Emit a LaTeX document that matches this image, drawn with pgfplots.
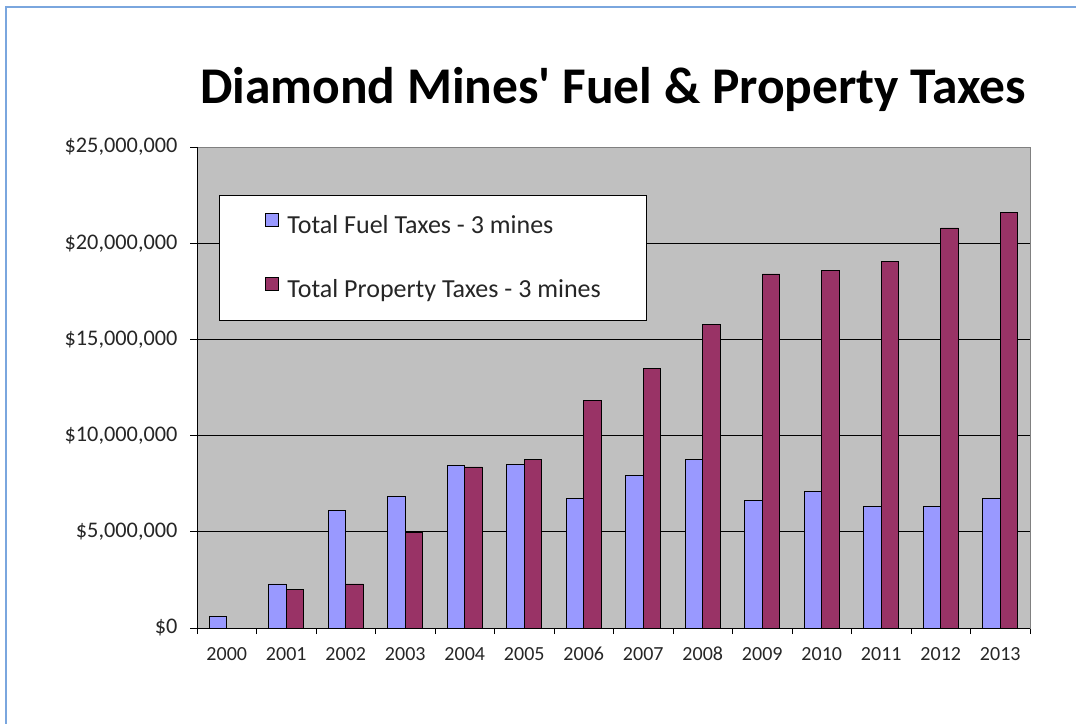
\documentclass[border=0pt]{standalone}
\usepackage{pgfplots}
\pgfplotsset{compat=1.18}
\usepackage{fontspec}
\setmainfont{Carlito}
\definecolor{fuel}{HTML}{9999FF}
\definecolor{prop}{HTML}{993366}
\definecolor{plotbg}{HTML}{C0C0C0}
\definecolor{frameblue}{HTML}{7AA6DE}
\begin{document}
\begin{tikzpicture}[x=1pt,y=1pt]
\path[use as bounding box] (0,0) rectangle (1076,723);
\fill[white] (0,0) rectangle (1076,723);
\draw[frameblue, line width=1.5pt] (6,-2) -- (6,716) -- (1078,716);
\node[font=\bfseries\fontsize{51.5}{60}\selectfont, anchor=base] at (613,619) {Diamond Mines\textquotesingle{} Fuel \& Property Taxes};
\begin{axis}[
  at={(197pt,95pt)}, anchor=south west, scale only axis,
  width=833pt, height=481pt,
  xmin=-0.5, xmax=13.5, ymin=0, ymax=25000000,
  enlargelimits=false,
  ybar=0pt, bar width=17.5pt,
  axis background/.style={fill=plotbg},
  axis line style={draw=gray, line width=0.8pt},
  tick pos=left, tick align=outside,
  ytick={0,5000000,10000000,15000000,20000000,25000000},
  yticklabels={{\$0},{\$5,000,000},{\$10,000,000},{\$15,000,000},{\$20,000,000},{\$25,000,000}},
  scaled y ticks=false,
  ymajorgrids, grid style={black, line width=0.9pt},
  xtick={0,...,13},
  xticklabels={2000,2001,2002,2003,2004,2005,2006,2007,2008,2009,2010,2011,2012,2013},
  major x tick style={draw=none},
  minor xtick={-0.5,0.5,...,13.5},
  minor x tick style={black, line width=0.8pt},
  minor tick length=6pt,
  major tick length=7pt,
  y tick style={black, line width=0.8pt},
  yticklabel style={font=\fontsize{22.3}{26}\selectfont, text=black!85, xshift=-9pt},
  xticklabel style={font=\fontsize{20}{24}\selectfont, text=black!85, text height=13pt, text depth=3pt, yshift=-9pt},
  legend style={at={(0.0264,0.9002)}, anchor=north west, draw=black, line width=0.8pt, fill=white,
    font=\fontsize{26}{30}\selectfont, text=black!85, inner xsep=45.5pt, inner ysep=17.5pt,
    row sep=39pt, column sep=9pt,
    nodes={inner sep=0pt, text height=19pt, text depth=5pt}},
  legend cell align=left,
  legend image code/.code={\draw[#1, draw=black, line width=0.6pt] (0pt,0pt) rectangle (13pt,13pt);},
]
\addplot[fill=fuel, draw=black, line width=0.8pt] coordinates {
 (0,590000) (1,2290000) (2,6110000) (3,6840000) (4,8450000) (5,8480000) (6,6710000)
 (7,7910000) (8,8780000) (9,6650000) (10,7110000) (11,6310000) (12,6310000) (13,6710000)};
\addlegendentry{Total Fuel Taxes - 3 mines}
\addplot[fill=prop, draw=black, line width=0.8pt] coordinates {
 (0,0) (1,2000000) (2,2290000) (3,4960000) (4,8370000) (5,8780000) (6,11850000)
 (7,13500000) (8,15780000) (9,18400000) (10,18570000) (11,19040000) (12,20790000) (13,21590000)};
\addlegendentry{Total Property Taxes - 3 mines}
\draw[black, line width=0.9pt] (rel axis cs:0,1) -- (rel axis cs:0,0) -- (rel axis cs:1,0);
\end{axis}
\end{tikzpicture}
\end{document}
